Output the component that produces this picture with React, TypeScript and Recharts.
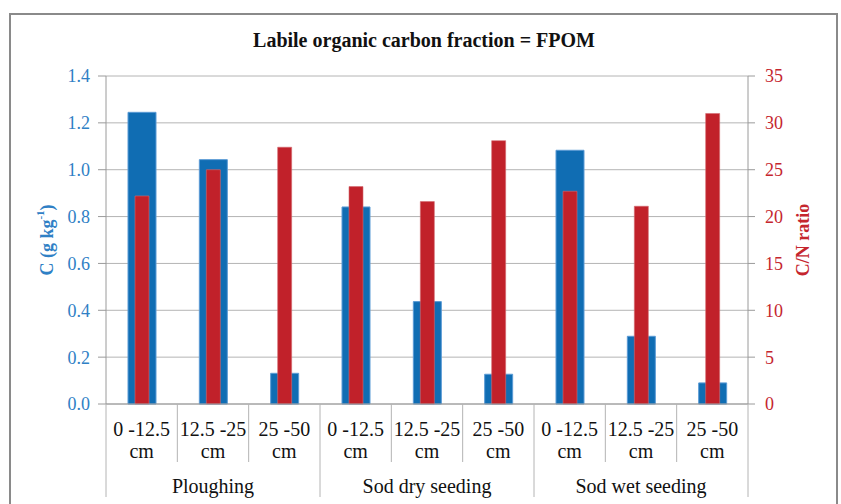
import { ComposedChart, Bar, XAxis, YAxis, CartesianGrid } from "recharts";

const groups = ["Ploughing", "Sod dry seeding", "Sod wet seeding"];
const depthTop = ["0 -12.5", "12.5 -25", "25 -50"];
const depthUnit = ["cm", "cm", "cm"];

// C (g kg-1) per depth, in group order
const carbon = [1.245, 1.043, 0.131, 0.841, 0.437, 0.127, 1.083, 0.289, 0.09];
// C/N ratio per depth, in group order
const cnRatio = [22.2, 25.0, 27.4, 23.2, 21.6, 28.1, 22.7, 21.1, 31.0];

const leftTicks = [0, 0.2, 0.4, 0.6, 0.8, 1.0, 1.2, 1.4];
const rightTicks = [0, 5, 10, 15, 20, 25, 30, 35];

const data = carbon.map((c, i) => ({
  id: `${groups[Math.floor(i / 3)]}-${i % 3}`,
  depth: depthTop[i % 3],
  unit: depthUnit[i % 3],
  group: groups[Math.floor(i / 3)],
  carbon: c,
  cn: cnRatio[i],
}));

const W = 841;
const H = 504;
const MARGIN = { top: 76, right: 33, bottom: 5, left: 46 };
const Y_W = 60;
const PLOT_W = W - MARGIN.left - MARGIN.right - Y_W * 2;
const STEP = PLOT_W / data.length;

const BLUE = "#106DB3";
const RED = "#C1212A";
const BLUE_TEXT = "#2F80C5";
const RED_TEXT = "#C5262E";
const GRID = "#B4B4B4";
const FONT = "'Liberation Serif', 'Times New Roman', serif";
const serif = { fontFamily: FONT };

// two-level category axis: depth labels, group labels and separators
const CategoryTick = ({ x, y, index }: any) => {
  const row = data[index];
  if (!row) return null;
  const left = x - STEP / 2;
  const isGroupStart = index % 3 === 0;
  const isLast = index === data.length - 1;
  return (
    <g>
      <line x1={left} x2={left} y1={y} y2={y + (isGroupStart ? 93 : 58)} stroke={GRID} />
      {isLast && <line x1={x + STEP / 2} x2={x + STEP / 2} y1={y} y2={y + 93} stroke={GRID} />}
      <text x={x} y={y + 32} textAnchor="middle" fontSize={20} fill="#111" style={serif}>
        {row.depth}
      </text>
      <text x={x} y={y + 54} textAnchor="middle" fontSize={20} fill="#111" style={serif}>
        {row.unit}
      </text>
      {index % 3 === 1 && (
        <text x={x} y={y + 89} textAnchor="middle" fontSize={20} fill="#111" style={serif}>
          {row.group}
        </text>
      )}
    </g>
  );
};

const LeftLabel = ({ viewBox }: any) => {
  const cx = viewBox.x + 1;
  const cy = viewBox.y + viewBox.height / 2;
  return (
    <text
      x={cx}
      y={cy}
      transform={`rotate(-90 ${cx} ${cy})`}
      textAnchor="middle"
      dominantBaseline="central"
      fontSize={18}
      fontWeight="bold"
      fill={BLUE_TEXT}
      style={serif}
    >
      C (g kg<tspan fontSize={11} dy={-7}>-1</tspan>
      <tspan dy={7}>)</tspan>
    </text>
  );
};

const RightLabel = ({ viewBox }: any) => {
  const cx = viewBox.x + 55;
  const cy = viewBox.y + viewBox.height / 2;
  return (
    <text
      x={cx}
      y={cy}
      transform={`rotate(-90 ${cx} ${cy})`}
      textAnchor="middle"
      dominantBaseline="central"
      fontSize={18}
      fontWeight="bold"
      fill={RED_TEXT}
      style={serif}
    >
      C/N ratio
    </text>
  );
};

export default function App() {
  return (
    <div
      style={{
        position: "absolute",
        left: 0,
        top: 0,
        width: W,
        height: H,
        background: "#fff",
        overflow: "hidden",
        fontFamily: FONT,
      }}
    >
      {/* chart frame */}
      <div
        style={{
          position: "absolute",
          left: 9,
          top: 13,
          width: 829,
          height: 520,
          border: "2px solid #8a8a8a",
          boxSizing: "border-box",
        }}
      />
      <div
        style={{
          position: "absolute",
          left: 0,
          width: 848,
          top: 29,
          textAlign: "center",
          fontWeight: "bold",
          fontSize: 20,
          color: "#111",
        }}
      >
        Labile organic carbon fraction = FPOM
      </div>
      <div style={{ position: "absolute", left: 0, top: 0 }}>
        <ComposedChart width={W} height={H} data={data} margin={MARGIN} barGap={0} style={serif}>
          <CartesianGrid yAxisId="left" vertical={false} stroke={GRID} />
          <XAxis
            xAxisId="a"
            dataKey="id"
            height={95}
            tickLine={false}
            tickSize={0}
            tickMargin={0}
            axisLine={{ stroke: "#9a9a9a" }}
            interval={0}
            tick={<CategoryTick />}
          />
          <XAxis xAxisId="b" dataKey="id" hide />
          <YAxis
            yAxisId="left"
            width={Y_W}
            domain={[0, 1.4]}
            ticks={leftTicks}
            tickFormatter={(v: number) => v.toFixed(1)}
            tickSize={8}
            tickMargin={8}
            tickLine={{ stroke: "#9a9a9a" }}
            axisLine={{ stroke: "#9a9a9a" }}
            tick={{ fill: BLUE_TEXT, fontSize: 18, style: serif }}
            label={<LeftLabel />}
          />
          <YAxis
            yAxisId="right"
            orientation="right"
            width={Y_W}
            domain={[0, 35]}
            ticks={rightTicks}
            tickSize={7}
            tickMargin={10}
            tickLine={{ stroke: "#9a9a9a" }}
            axisLine={{ stroke: "#9a9a9a" }}
            tick={{ fill: RED_TEXT, fontSize: 18, style: serif }}
            label={<RightLabel />}
          />
          <Bar
            xAxisId="a"
            yAxisId="left"
            dataKey="carbon"
            barSize={28}
            fill={BLUE}
            stroke="#5B9BD5"
            strokeWidth={1}
            isAnimationActive={false}
          />
          <Bar
            xAxisId="b"
            yAxisId="right"
            dataKey="cn"
            barSize={14}
            fill={RED}
            stroke="#D46A70"
            strokeWidth={0.6}
            isAnimationActive={false}
          />
        </ComposedChart>
      </div>
    </div>
  );
}
